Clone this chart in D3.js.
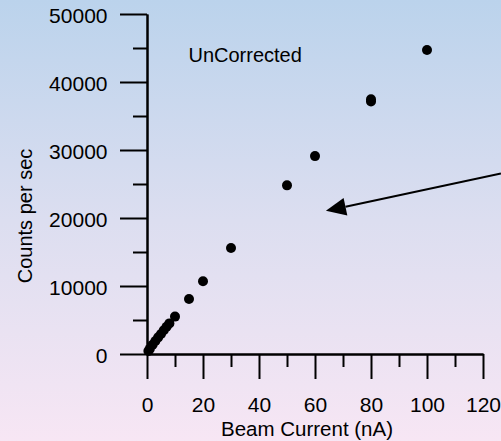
<!DOCTYPE html>
<html>
<head>
  <meta charset="utf-8">
  <title>Counts vs Beam Current</title>
  <script src="https://d3js.org/d3.v7.min.js"></script>
  <style>
    html, body { margin: 0; padding: 0; }
    body { font-family: "Liberation Sans", Arial, sans-serif; }
  </style>
</head>
<body>
  <div id="chart"></div>
  <script>
    const beamCurrent = [0.5, 1, 2, 3, 4, 5, 6, 7, 8, 10, 15, 20, 30, 50, 60, 80, 80, 100];
    const countsPerSec = [450, 750, 1350, 1900, 2450, 2950, 3500, 4000, 4500, 5500, 8100, 10700, 15600, 24800, 29100, 37150, 37450, 44700];

    const xMajorTicks = [0, 20, 40, 60, 80, 100, 120];
    const xMinorTicks = [10, 30, 50, 70, 90, 110];
    const yMajorTicks = [0, 10000, 20000, 30000, 40000, 50000];
    const yMinorTicks = [5000, 15000, 25000, 35000, 45000];

    // annotation, in data units: arrow from off the right edge to the tip
    const arrowFrom = [126.4, 26550];
    const arrowTo = [63.9, 21050];
    const noteText = "UnCorrected";
    const notePos = [14.8, 42900];

    const width = 501, height = 441;

    const svg = d3.select("#chart").append("svg")
      .attr("width", width)
      .attr("height", height);

    // background gradient, blue at top to pink at bottom
    const grad = svg.append("defs").append("linearGradient")
      .attr("id", "bg").attr("x1", 0).attr("y1", 0).attr("x2", 0).attr("y2", 1);
    grad.append("stop").attr("offset", "0%").attr("stop-color", "#bbd3ec");
    grad.append("stop").attr("offset", "50%").attr("stop-color", "#dcdef0");
    grad.append("stop").attr("offset", "100%").attr("stop-color", "#f7e6f4");
    svg.append("rect").attr("width", width).attr("height", height).attr("fill", "url(#bg)");

    const x = d3.scaleLinear().domain([0, 120]).range([147, 483]);
    const y = d3.scaleLinear().domain([0, 50000]).range([354, 14]);

    const styleAxis = g => {
      g.selectAll("path, line").attr("stroke", "#000").attr("stroke-width", 2);
      g.selectAll("text").attr("fill", "#000")
        .style("font-family", "'Liberation Sans', Arial, sans-serif")
        .style("font-size", "21px");
    };

    // x axis
    svg.append("g")
      .attr("transform", `translate(0,${y(0)})`)
      .call(d3.axisBottom(x).tickValues(xMinorTicks).tickSize(13).tickSizeOuter(0).tickFormat(""))
      .call(styleAxis);
    svg.append("g")
      .attr("transform", `translate(0,${y(0)})`)
      .call(d3.axisBottom(x).tickValues(xMajorTicks).tickSize(25).tickSizeOuter(0).tickPadding(18))
      .call(styleAxis);

    // y axis
    svg.append("g")
      .attr("transform", `translate(${x(0)},0)`)
      .call(d3.axisLeft(y).tickValues(yMinorTicks).tickSize(14).tickSizeOuter(0).tickFormat(""))
      .call(styleAxis);
    const yAxis = svg.append("g")
      .attr("transform", `translate(${x(0)},0)`)
      .call(d3.axisLeft(y).tickValues(yMajorTicks).tickSize(27).tickSizeOuter(0).tickPadding(12.5).tickFormat(d3.format("d")))
      .call(styleAxis);
    yAxis.selectAll("text").attr("dy", "0.41em");

    // axis titles
    svg.append("text")
      .attr("x", 307).attr("y", 436)
      .attr("text-anchor", "middle")
      .style("font-size", "20.5px")
      .text("Beam Current (nA)");

    svg.append("text")
      .attr("transform", "translate(32,216) rotate(-90)")
      .attr("text-anchor", "middle")
      .style("font-size", "20px")
      .text("Counts per sec");

    // points
    svg.append("g").selectAll("circle")
      .data(beamCurrent.map((c, i) => [c, countsPerSec[i]]))
      .join("circle")
      .attr("cx", d => x(d[0]))
      .attr("cy", d => y(d[1]))
      .attr("r", 5)
      .attr("fill", "#000");

    // note
    svg.append("text")
      .attr("x", x(notePos[0])).attr("y", y(notePos[1]))
      .style("font-size", "20px")
      .text(noteText);

    // arrow
    const x0 = x(arrowFrom[0]), y0 = y(arrowFrom[1]);
    const x1 = x(arrowTo[0]), y1 = y(arrowTo[1]);
    const ang = Math.atan2(y1 - y0, x1 - x0);
    const headLen = 20, headHalf = 9;
    const bx = x1 - headLen * Math.cos(ang), by = y1 - headLen * Math.sin(ang);
    svg.append("line")
      .attr("x1", x0).attr("y1", y0).attr("x2", bx).attr("y2", by)
      .attr("stroke", "#000").attr("stroke-width", 2);
    svg.append("polygon")
      .attr("points", [
        [x1, y1],
        [bx + headHalf * Math.sin(ang), by - headHalf * Math.cos(ang)],
        [bx - headHalf * Math.sin(ang), by + headHalf * Math.cos(ang)]
      ].map(p => p.join(",")).join(" "))
      .attr("fill", "#000");
  </script>
</body>
</html>
